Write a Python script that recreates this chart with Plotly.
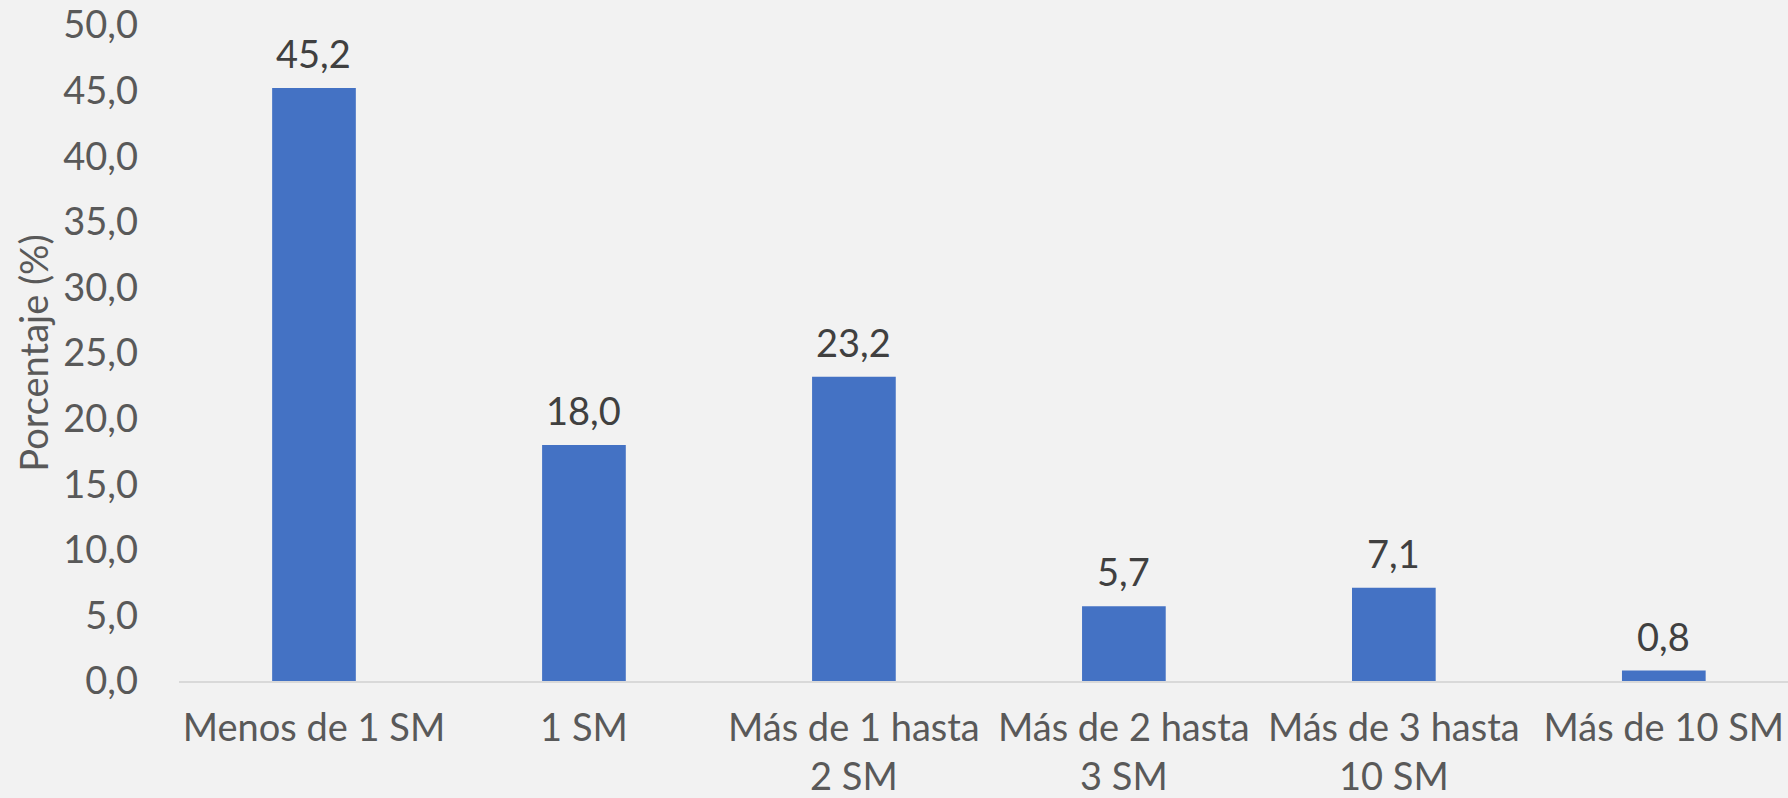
import plotly.graph_objects as go

categorias = ["Menos de 1 SM", "1 SM", "Más de 1 hasta<br>2 SM", "Más de 2 hasta<br>3 SM",
              "Más de 3 hasta<br>10 SM", "Más de 10 SM"]
porcentajes = [45.2, 18.0, 23.2, 5.7, 7.1, 0.8]

fuente = "Lato, 'Open Sans', sans-serif"

fig = go.Figure()

fig.add_trace(go.Bar(
    x=categorias,
    y=porcentajes,
    marker=dict(color="#4472C4", line=dict(width=0)),
    hoverinfo="x+y",
))

# etiquetas de datos sobre cada barra
for cat, val in zip(categorias, porcentajes):
    fig.add_annotation(
        x=cat, y=val,
        text=f"{val:.1f}".replace(".", ","),
        showarrow=False,
        yanchor="bottom",
        yshift=10,
        font=dict(family=fuente, size=38, color="#404040"),
    )

fig.update_layout(
    width=1788,
    height=798,
    margin=dict(l=179, r=0, t=23, b=104),
    paper_bgcolor="#F2F2F2",
    plot_bgcolor="#F2F2F2",
    separators=",.",
    bargap=0.69,
    showlegend=False,
    font=dict(family=fuente, size=38, color="#595959"),
)

fig.update_xaxes(
    range=[-0.5, 5.46],
    showline=True,
    linecolor="#D9D9D9",
    linewidth=2,
    showgrid=False,
    ticks="",
    ticklabelstandoff=12,
    tickfont=dict(family=fuente, size=38, color="#595959"),
)

fig.update_yaxes(
    range=[0, 50.01],
    tickvals=[0, 5, 10, 15, 20, 25, 30, 35, 40, 45, 50],
    tickformat=".1f",
    showgrid=False,
    zeroline=False,
    showline=False,
    ticks="",
    ticklabelstandoff=40,
    ticklabeloverflow="allow",
    tickfont=dict(family=fuente, size=38, color="#595959"),
    title=dict(text="Porcentaje (%)", font=dict(family=fuente, size=38, color="#595959"), standoff=2),
)

fig.write_html("out.html", config={"displayModeBar": False},
               post_script="document.body.style.margin='0';")
